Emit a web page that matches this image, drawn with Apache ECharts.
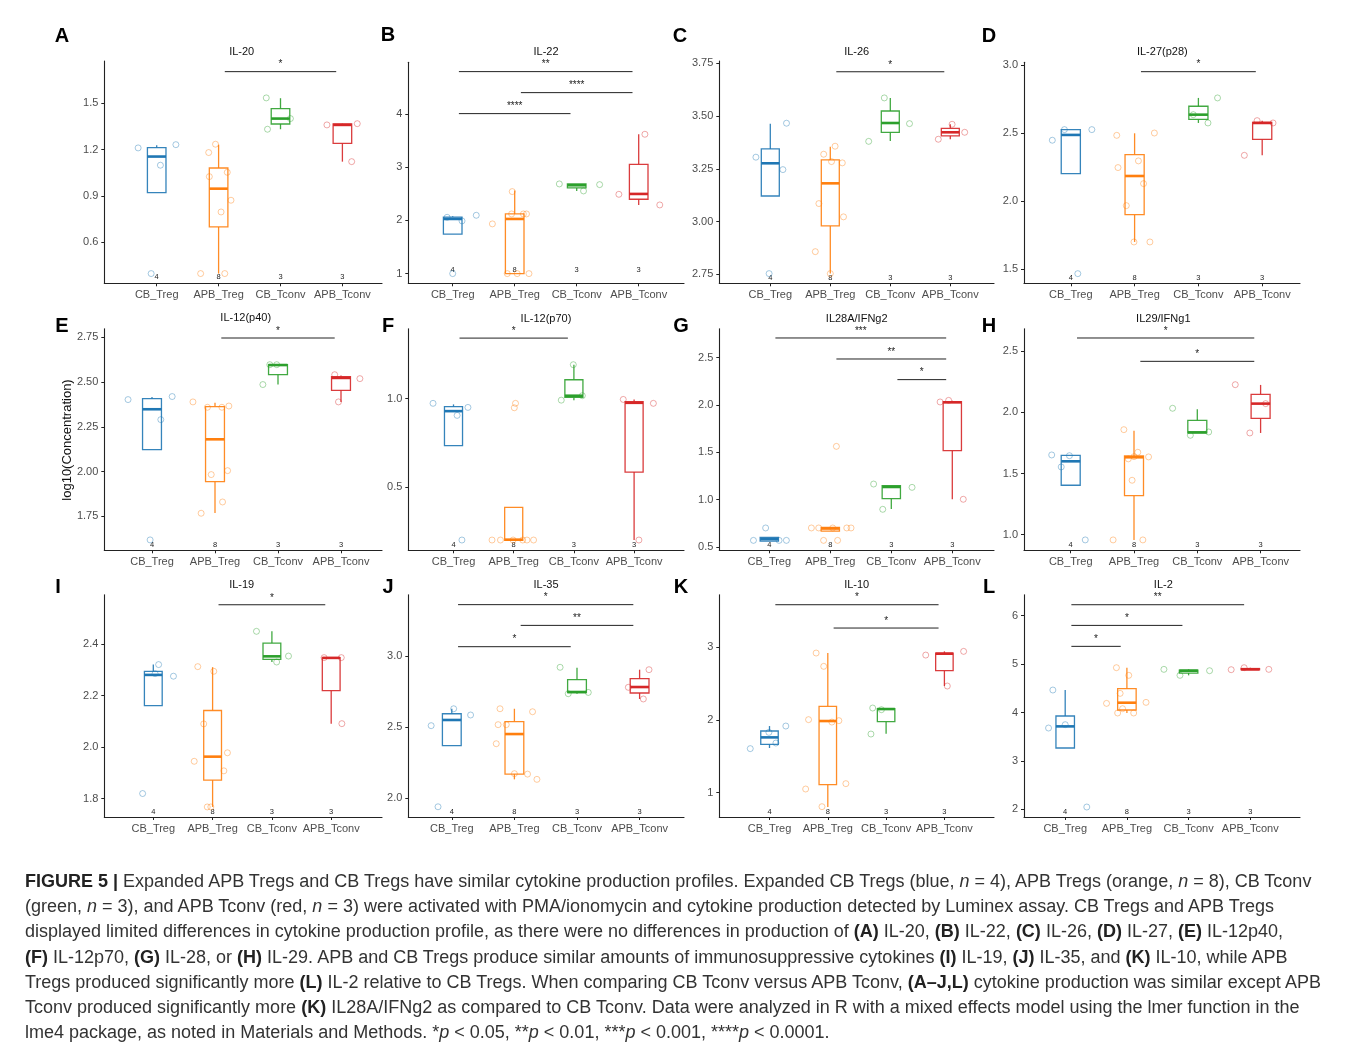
<!DOCTYPE html>
<html>
<head>
<meta charset="utf-8">
<script src="https://cdn.jsdelivr.net/npm/echarts@6/dist/echarts.min.js"></script>
<style>
  html, body { margin: 0; padding: 0; background: #fff; }
  #main { position: absolute; left: 0; top: 0; width: 1355px; height: 1051px; }
  #cap {
    position: absolute; left: 25px; top: 869px;
    font-family: "Liberation Sans", Arial, sans-serif; font-size: 18px;
    line-height: 25.2px; color: #333; white-space: nowrap;
  }
  #cap b { color: #222; }
</style>
</head>
<body>
<div id="main"></div>
<div id="cap">
<b>FIGURE 5 |</b> Expanded APB Tregs and CB Tregs have similar cytokine production profiles. Expanded CB Tregs (blue, <i>n</i> = 4), APB Tregs (orange, <i>n</i> = 8), CB Tconv<br>
(green, <i>n</i> = 3), and APB Tconv (red, <i>n</i> = 3) were activated with PMA/ionomycin and cytokine production detected by Luminex assay. CB Tregs and APB Tregs<br>
displayed limited differences in cytokine production profile, as there were no differences in production of <b>(A)</b> IL-20, <b>(B)</b> IL-22, <b>(C)</b> IL-26, <b>(D)</b> IL-27, <b>(E)</b> IL-12p40,<br>
<b>(F)</b> IL-12p70, <b>(G)</b> IL-28, or <b>(H)</b> IL-29. APB and CB Tregs produce similar amounts of immunosuppressive cytokines <b>(I)</b> IL-19, <b>(J)</b> IL-35, and <b>(K)</b> IL-10, while APB<br>
Tregs produced significantly more <b>(L)</b> IL-2 relative to CB Tregs. When comparing CB Tconv versus APB Tconv, <b>(A–J,L)</b> cytokine production was similar except APB<br>
Tconv produced significantly more <b>(K)</b> IL28A/IFNg2 as compared to CB Tconv. Data were analyzed in R with a mixed effects model using the lmer function in the<br>
lme4 package, as noted in Materials and Methods. *<i>p</i> &lt; 0.05, **<i>p</i> &lt; 0.01, ***<i>p</i> &lt; 0.001, ****<i>p</i> &lt; 0.0001.
</div>
<script>
// groups on every x axis
const groups = ['CB_Treg', 'APB_Treg', 'CB_Tconv', 'APB_Tconv'];
const counts = [4, 8, 3, 3];

// box stats per group: [lower whisker, q1, median, q3, upper whisker]
// points per group: [jitter, log10 value]
// sig bars: [from group, to group, y, stars]

// A  IL-20
const boxA = [[0.922, 0.922, 1.155, 1.213, 1.229], [0.397, 0.699, 0.947, 1.081, 1.232], [1.332, 1.366, 1.401, 1.465, 1.533], [1.122, 1.241, 1.360, 1.366, 1.368]];
const ptsA = [
  [[-0.30, 1.211], [0.31, 1.232], [0.06, 1.099], [-0.09, 0.397]],
  [[-0.05, 1.235], [-0.16, 1.181], [-0.15, 1.025], [0.14, 1.053], [0.20, 0.872], [0.04, 0.796], [-0.29, 0.397], [0.10, 0.397]],
  [[-0.23, 1.535], [0.16, 1.401], [-0.21, 1.332]],
  [[-0.25, 1.360], [0.24, 1.368], [0.15, 1.122]]
];
const ticksA = ['0.6', '0.9', '1.2', '1.5'];
const sigA = [[1, 3, 1.705, '*']];

// B  IL-22
const boxB = [[1.74, 1.74, 2.027, 2.06, 2.08], [1.0, 1.0, 2.027, 2.121, 2.56], [2.553, 2.61, 2.66, 2.685, 2.685], [2.29, 2.397, 2.497, 3.054, 3.618]];
const ptsB = [
  [[-0.09, 2.058], [0.15, 1.99], [0.38, 2.096], [0.0, 1.0]],
  [[-0.36, 1.934], [-0.04, 2.541], [-0.05, 2.121], [0.14, 2.121], [0.19, 2.121], [-0.12, 1.0], [0.04, 1.0], [0.23, 1.0]],
  [[-0.28, 2.685], [0.11, 2.553], [0.37, 2.672]],
  [[-0.32, 2.49], [0.10, 3.618], [0.34, 2.29]]
];
const ticksB = ['1', '2', '3', '4'];
const sigB = [[0, 3, 4.795, '**'], [1, 3, 4.40, '****'], [0, 2, 4.006, '****']];

// C  IL-26
const boxC = [[3.121, 3.121, 3.276, 3.344, 3.464], [2.753, 2.979, 3.181, 3.292, 3.355], [3.382, 3.423, 3.467, 3.524, 3.586], [3.39, 3.406, 3.423, 3.442, 3.461]];
const ptsC = [
  [[-0.24, 3.305], [0.27, 3.466], [0.21, 3.246], [-0.02, 2.753]],
  [[-0.11, 3.319], [0.08, 3.357], [0.02, 3.284], [0.20, 3.278], [-0.19, 3.085], [0.22, 3.022], [-0.25, 2.857], [0.0, 2.753]],
  [[-0.10, 3.586], [0.32, 3.464], [-0.36, 3.38]],
  [[-0.20, 3.39], [0.03, 3.461], [0.24, 3.423]]
];
const ticksC = ['2.75', '3.00', '3.25', '3.50', '3.75'];
const sigC = [[1, 3, 3.71, '*']];

// D  IL-27(p28)
const boxD = [[2.203, 2.203, 2.488, 2.527, 2.527], [1.701, 1.902, 2.186, 2.343, 2.5], [2.576, 2.603, 2.637, 2.699, 2.76], [2.338, 2.456, 2.576, 2.581, 2.593]];
const ptsD = [
  [[-0.29, 2.449], [-0.10, 2.527], [0.33, 2.527], [0.11, 1.468]],
  [[-0.28, 2.485], [0.31, 2.502], [0.06, 2.297], [-0.26, 2.248], [0.14, 2.130], [-0.13, 1.968], [-0.01, 1.701], [0.24, 1.701]],
  [[0.30, 2.760], [-0.08, 2.637], [0.15, 2.576]],
  [[-0.08, 2.593], [0.17, 2.576], [-0.28, 2.338]]
];
const ticksD = ['1.5', '2.0', '2.5', '3.0'];
const sigD = [[1, 3, 2.953, '*']];

// E  IL-12(p40)
const boxE = [[2.122, 2.122, 2.348, 2.407, 2.417], [1.769, 1.944, 2.18, 2.363, 2.385], [2.486, 2.541, 2.595, 2.597, 2.597], [2.389, 2.454, 2.523, 2.53, 2.536]];
const ptsE = [
  [[-0.38, 2.402], [0.32, 2.419], [0.14, 2.29], [-0.03, 1.618]],
  [[-0.35, 2.389], [-0.12, 2.359], [0.11, 2.359], [0.22, 2.366], [-0.06, 1.983], [0.20, 2.005], [0.12, 1.83], [-0.22, 1.767]],
  [[-0.13, 2.597], [-0.02, 2.597], [-0.24, 2.486]],
  [[-0.10, 2.541], [0.30, 2.519], [-0.04, 2.389]]
];
const ticksE = ['1.75', '2.00', '2.25', '2.50', '2.75'];
const sigE = [[1, 3, 2.746, '*']];

// F  IL-12(p70)
const boxF = [[0.735, 0.735, 0.93, 0.955, 0.968], [0.201, 0.201, 0.205, 0.387, 0.387], [0.992, 1.008, 1.017, 1.107, 1.192], [0.203, 0.586, 0.977, 0.983, 0.996]];
const ptsF = [
  [[-0.34, 0.974], [0.24, 0.951], [0.06, 0.906], [0.14, 0.203]],
  [[-0.36, 0.203], [-0.22, 0.203], [-0.01, 0.203], [0.15, 0.203], [0.22, 0.203], [0.33, 0.203], [0.03, 0.974], [0.01, 0.949]],
  [[-0.01, 1.192], [-0.21, 0.992], [0.14, 1.017]],
  [[-0.18, 0.996], [0.32, 0.974], [0.08, 0.203]]
];
const ticksF = ['0.5', '1.0'];
const sigF = [[0, 2, 1.342, '*']];

// G  IL28A/IFNg2
const boxG = [[0.562, 0.562, 0.583, 0.602, 0.602], [0.668, 0.668, 0.695, 0.708, 0.708], [0.901, 1.011, 1.134, 1.148, 1.148], [1.004, 1.518, 2.028, 2.035, 2.045]];
const ptsG = [
  [[-0.06, 0.701], [-0.26, 0.57], [0.16, 0.57], [0.28, 0.57]],
  [[-0.31, 0.701], [-0.19, 0.701], [0.04, 0.701], [0.27, 0.701], [0.34, 0.701], [0.10, 1.563], [-0.11, 0.57], [0.12, 0.57]],
  [[-0.29, 1.165], [0.34, 1.13], [-0.14, 0.898]],
  [[-0.20, 2.032], [-0.06, 2.049], [0.18, 1.004]]
];
const ticksG = ['0.5', '1.0', '1.5', '2.0', '2.5'];
const sigG = [[0, 3, 2.708, '***'], [1, 3, 2.486, '**'], [2, 3, 2.268, '*']];

// H  IL29/IFNg1
const boxH = [[1.404, 1.404, 1.60, 1.649, 1.652], [0.957, 1.319, 1.633, 1.644, 1.851], [1.832, 1.832, 1.837, 1.935, 2.025], [1.832, 1.952, 2.072, 2.148, 2.225]];
const ptsH = [
  [[-0.30, 1.652], [-0.02, 1.646], [-0.15, 1.554], [0.23, 0.957]],
  [[-0.16, 1.859], [-0.09, 1.62], [0.06, 1.674], [0.23, 1.636], [-0.03, 1.445], [-0.33, 0.957], [0.14, 0.957], [0.0, 1.638]],
  [[-0.39, 2.034], [-0.11, 1.813], [0.18, 1.84]],
  [[-0.40, 2.227], [0.08, 2.072], [-0.17, 1.832]]
];
const ticksH = ['1.0', '1.5', '2.0', '2.5'];
const sigH = [[0, 3, 2.609, '*'], [1, 3, 2.418, '*']];

// I  IL-19
const boxI = [[2.161, 2.161, 2.28, 2.294, 2.32], [1.768, 1.872, 1.963, 2.142, 2.31], [2.33, 2.34, 2.352, 2.403, 2.449], [2.091, 2.219, 2.346, 2.347, 2.347]];
const ptsI = [
  [[0.09, 2.32], [0.34, 2.275], [-0.18, 1.82], [0.03, 2.285]],
  [[-0.25, 2.312], [0.02, 2.294], [-0.15, 2.09], [0.25, 1.978], [-0.31, 1.945], [0.19, 1.908], [-0.09, 1.768], [-0.03, 1.768]],
  [[-0.26, 2.449], [0.28, 2.353], [0.08, 2.33]],
  [[-0.12, 2.347], [0.17, 2.347], [0.18, 2.091]]
];
const ticksI = ['1.8', '2.0', '2.2', '2.4'];
const sigI = [[1, 3, 2.552, '*']];

// J  IL-35
const boxJ = [[2.371, 2.371, 2.552, 2.596, 2.631], [2.134, 2.171, 2.453, 2.54, 2.631], [2.737, 2.744, 2.749, 2.836, 2.92], [2.70, 2.742, 2.784, 2.843, 2.906]];
const ptsJ = [
  [[0.03, 2.631], [0.30, 2.587], [-0.33, 2.512], [-0.22, 1.941]],
  [[-0.23, 2.631], [0.29, 2.61], [-0.26, 2.519], [-0.13, 2.519], [-0.29, 2.385], [0.0, 2.174], [0.21, 2.171], [0.36, 2.134]],
  [[-0.27, 2.923], [-0.14, 2.737], [0.18, 2.746]],
  [[0.15, 2.906], [-0.18, 2.782], [0.06, 2.70]]
];
const ticksJ = ['2.0', '2.5', '3.0'];
const sigJ = [[0, 3, 3.364, '*'], [1, 3, 3.218, '**'], [0, 2, 3.068, '*']];

// K  IL-10
const boxK = [[1.615, 1.665, 1.761, 1.849, 1.917], [0.803, 1.11, 1.986, 2.188, 2.922], [1.812, 1.977, 2.151, 2.156, 2.165], [2.468, 2.679, 2.913, 2.922, 2.945]];
const ptsK = [
  [[-0.01, 1.83], [0.28, 1.917], [0.11, 1.683], [-0.33, 1.606]],
  [[-0.20, 2.922], [-0.07, 2.739], [-0.33, 2.005], [0.07, 1.972], [0.19, 1.991], [0.31, 1.124], [-0.38, 1.05], [-0.10, 0.807]],
  [[-0.23, 2.165], [-0.08, 2.142], [-0.26, 1.807]],
  [[-0.32, 2.894], [0.33, 2.945], [0.05, 2.468]]
];
const ticksK = ['1', '2', '3'];
const sigK = [[0, 3, 3.587, '*'], [1, 3, 3.266, '*']];

// L  IL-2
const boxL = [[3.267, 3.267, 3.714, 3.928, 4.465], [3.99, 4.052, 4.203, 4.492, 4.926], [4.768, 4.816, 4.864, 4.878, 4.892], [4.885, 4.885, 4.892, 4.909, 4.926]];
const ptsL = [
  [[-0.20, 4.465], [0.0, 3.749], [-0.27, 3.68], [0.35, 2.048]],
  [[-0.17, 4.926], [0.03, 4.768], [-0.11, 4.396], [-0.33, 4.189], [0.31, 4.21], [-0.07, 4.079], [-0.15, 3.99], [0.11, 3.99]],
  [[-0.40, 4.892], [-0.14, 4.768], [0.34, 4.864]],
  [[-0.31, 4.885], [-0.10, 4.926], [0.30, 4.892]]
];
const ticksL = ['2', '3', '4', '5', '6'];
const sigL = [[0, 3, 6.227, '**'], [0, 2, 5.80, '*'], [0, 1, 5.367, '*']];

const panels = [
  { tag: 'A', title: 'IL-20', box: boxA, pts: ptsA, ticks: ticksA, sig: sigA },
  { tag: 'B', title: 'IL-22', box: boxB, pts: ptsB, ticks: ticksB, sig: sigB },
  { tag: 'C', title: 'IL-26', box: boxC, pts: ptsC, ticks: ticksC, sig: sigC },
  { tag: 'D', title: 'IL-27(p28)', box: boxD, pts: ptsD, ticks: ticksD, sig: sigD },
  { tag: 'E', title: 'IL-12(p40)', box: boxE, pts: ptsE, ticks: ticksE, sig: sigE },
  { tag: 'F', title: 'IL-12(p70)', box: boxF, pts: ptsF, ticks: ticksF, sig: sigF },
  { tag: 'G', title: 'IL28A/IFNg2', box: boxG, pts: ptsG, ticks: ticksG, sig: sigG },
  { tag: 'H', title: 'IL29/IFNg1', box: boxH, pts: ptsH, ticks: ticksH, sig: sigH },
  { tag: 'I', title: 'IL-19', box: boxI, pts: ptsI, ticks: ticksI, sig: sigI },
  { tag: 'J', title: 'IL-35', box: boxJ, pts: ptsJ, ticks: ticksJ, sig: sigJ },
  { tag: 'K', title: 'IL-10', box: boxK, pts: ptsK, ticks: ticksK, sig: sigK },
  { tag: 'L', title: 'IL-2', box: boxL, pts: ptsL, ticks: ticksL, sig: sigL }
];

// where each panel sits (px): plot box, first group centre, group spacing, y range
const layout = [
  { l: 104.3, r: 382, t: 61, b: 283.3, c0: 156.7, s: 61.9, yMin: 0.334, yMax: 1.774, nOff: 6, tx: 241.7, ty: 51.7, lx: 62, ly: 36 },
  { l: 408.3, r: 684, t: 62.3, b: 283.3, c0: 452.7, s: 62, yMin: 0.818, yMax: 4.97, nOff: 13, tx: 546, ty: 51.7, lx: 388, ly: 35 },
  { l: 719.3, r: 994, t: 61, b: 283.3, c0: 770.3, s: 60, yMin: 2.707, yMax: 3.761, nOff: 5, tx: 856.7, ty: 51.7, lx: 680, ly: 36 },
  { l: 1024, r: 1300, t: 62.3, b: 283.3, c0: 1070.8, s: 63.8, yMin: 1.397, yMax: 3.022, nOff: 5, tx: 1162.3, ty: 51.7, lx: 989, ly: 36 },
  { l: 104.3, r: 382, t: 328.7, b: 550.3, c0: 152, s: 63, yMin: 1.56, yMax: 2.798, nOff: 5, tx: 245.7, ty: 318, lx: 62, ly: 326 },
  { l: 408.3, r: 684, t: 328.7, b: 550.3, c0: 453.5, s: 60.2, yMin: 0.145, yMax: 1.395, nOff: 5, tx: 546, ty: 318.7, lx: 388, ly: 326 },
  { l: 719.3, r: 994, t: 328.7, b: 550.3, c0: 769.3, s: 61, yMin: 0.465, yMax: 2.806, nOff: 5, tx: 856.7, ty: 318.7, lx: 681, ly: 326 },
  { l: 1024, r: 1300, t: 328.7, b: 550.3, c0: 1070.7, s: 63.3, yMin: 0.872, yMax: 2.685, nOff: 5, tx: 1163.3, ty: 318.7, lx: 989, ly: 326 },
  { l: 104.3, r: 382, t: 594.7, b: 817, c0: 153.3, s: 59.3, yMin: 1.729, yMax: 2.591, nOff: 5, tx: 241.7, ty: 584.7, lx: 58, ly: 587 },
  { l: 408.3, r: 684, t: 594.7, b: 817, c0: 451.8, s: 62.6, yMin: 1.869, yMax: 3.434, nOff: 5, tx: 546, ty: 584.7, lx: 388, ly: 587 },
  { l: 719.3, r: 994, t: 594.7, b: 817, c0: 769.5, s: 58.3, yMin: 0.665, yMax: 3.725, nOff: 5, tx: 856.7, ty: 584.7, lx: 681, ly: 587 },
  { l: 1024, r: 1300, t: 594.7, b: 817, c0: 1065.2, s: 61.7, yMin: 1.842, yMax: 6.434, nOff: 5, tx: 1163.3, ty: 584.7, lx: 989, ly: 587 }
];

const lineColors = ['#1f77b4', '#ff7f0e', '#2ca02c', '#d62728'];
const pointColors = ['rgba(31,119,180,0.5)', 'rgba(255,127,14,0.5)', 'rgba(44,160,44,0.5)', 'rgba(214,39,40,0.5)'];
const FONT = '"Liberation Sans", Arial, sans-serif';
const AXIS = '#222';
const BOX_W = 0.3;

const grids = [], xAxes = [], yAxes = [], series = [], graphics = [];

panels.forEach((p, k) => {
  const L = layout[k];
  grids.push({ left: L.l, top: L.t, width: L.r - L.l, height: L.b - L.t, outerBoundsMode: 'none' });

  xAxes.push({
    type: 'value', gridIndex: k,
    min: (L.l - L.c0) / L.s, max: (L.r - L.c0) / L.s,
    splitLine: { show: false },
    axisLine: { show: true, onZero: false, lineStyle: { color: AXIS, width: 1.1 } },
    axisTick: { show: true, length: 3, customValues: [0, 1, 2, 3], lineStyle: { color: AXIS } },
    axisLabel: {
      customValues: [0, 1, 2, 3], margin: 6, color: '#4d4d4d', fontSize: 11, fontFamily: FONT,
      formatter: v => groups[Math.round(v)]
    }
  });

  const tickVals = p.ticks.map(Number);
  yAxes.push({
    type: 'value', gridIndex: k, min: L.yMin, max: L.yMax,
    splitLine: { show: false },
    axisLine: { show: true, onZero: false, lineStyle: { color: AXIS, width: 1.1 } },
    axisTick: { show: true, length: 3, customValues: tickVals, lineStyle: { color: AXIS } },
    axisLabel: {
      customValues: tickVals, margin: 6, color: '#4d4d4d', fontSize: 11, fontFamily: FONT,
      formatter: v => {
        const i = tickVals.findIndex(t => Math.abs(t - v) < 1e-9);
        return i >= 0 ? p.ticks[i] : '';
      }
    }
  });

  // boxes
  series.push({
    type: 'custom', xAxisIndex: k, yAxisIndex: k, z: 2, silent: true,
    data: p.box.map((b, i) => [i].concat(b)),
    encode: { x: 0, y: [1, 2, 3, 4, 5] },
    renderItem: (params, api) => {
      const i = api.value(0);
      const c = lineColors[i];
      const hw = api.size([BOX_W, 0])[0] / 2;
      const pLo = api.coord([i, api.value(1)]);
      const pQ1 = api.coord([i, api.value(2)]);
      const pMd = api.coord([i, api.value(3)]);
      const pQ3 = api.coord([i, api.value(4)]);
      const pHi = api.coord([i, api.value(5)]);
      const st = { stroke: c, lineWidth: 1.3, opacity: 0.9 };
      return {
        type: 'group',
        children: [
          { type: 'line', shape: { x1: pHi[0], y1: pHi[1], x2: pQ3[0], y2: pQ3[1] }, style: st },
          { type: 'line', shape: { x1: pQ1[0], y1: pQ1[1], x2: pLo[0], y2: pLo[1] }, style: st },
          { type: 'rect', shape: { x: pQ3[0] - hw, y: pQ3[1], width: hw * 2, height: pQ1[1] - pQ3[1] },
            style: { fill: '#fff', stroke: c, lineWidth: 1.3, opacity: 0.9 } },
          { type: 'line', shape: { x1: pMd[0] - hw, y1: pMd[1], x2: pMd[0] + hw, y2: pMd[1] },
            style: { stroke: c, lineWidth: 2.6 } }
        ]
      };
    }
  });

  // jittered points
  const pts = [];
  p.pts.forEach((g, i) => g.forEach(d => pts.push({ value: [i + d[0], d[1]], itemStyle: { borderColor: pointColors[i] } })));
  series.push({
    type: 'scatter', xAxisIndex: k, yAxisIndex: k, z: 3, silent: true,
    symbol: 'circle', symbolSize: 6,
    itemStyle: { color: 'rgba(0,0,0,0)', borderWidth: 1 },
    data: pts
  });

  // significance bars
  series.push({
    type: 'custom', xAxisIndex: k, yAxisIndex: k, z: 3, silent: true,
    data: p.sig.map(s => [s[0], s[1], s[2]]),
    encode: { x: [0, 1], y: 2 },
    renderItem: (params, api) => {
      const a = api.coord([api.value(0) + 0.1, api.value(2)]);
      const b = api.coord([api.value(1) - 0.1, api.value(2)]);
      return {
        type: 'group',
        children: [
          { type: 'line', shape: { x1: a[0], y1: a[1], x2: b[0], y2: b[1] }, style: { stroke: '#222', lineWidth: 1 } },
          { type: 'text', x: (a[0] + b[0]) / 2, y: a[1] - 2,
            style: { text: p.sig[params.dataIndex][3], fill: '#222', fontSize: 10, fontFamily: FONT,
                     align: 'center', verticalAlign: 'bottom' } }
        ]
      };
    }
  });

  // group sizes
  series.push({
    type: 'custom', xAxisIndex: k, yAxisIndex: k, z: 3, silent: true,
    data: counts.map((n, i) => [i, n]),
    encode: { x: 0 },
    renderItem: (params, api) => {
      const pt = api.coord([api.value(0), L.yMin]);
      return { type: 'text', x: pt[0], y: pt[1] - L.nOff,
        style: { text: String(api.value(1)), fill: '#222', fontSize: 7.5, fontFamily: FONT,
                 align: 'center', verticalAlign: 'middle' } };
    }
  });

  graphics.push({ type: 'text', x: L.tx, y: L.ty,
    style: { text: p.title, fill: '#111', fontSize: 11, fontFamily: FONT, align: 'center', verticalAlign: 'middle' } });
  graphics.push({ type: 'text', x: L.lx, y: L.ly,
    style: { text: p.tag, fill: '#000', fontSize: 20, fontWeight: 'bold', fontFamily: FONT, align: 'center', verticalAlign: 'middle' } });
});

graphics.push({ type: 'text', x: 67, y: 440, rotation: Math.PI / 2,
  style: { text: 'log10(Concentration)', fill: '#111', fontSize: 13, fontFamily: FONT, align: 'center', verticalAlign: 'middle' } });

const chart = echarts.init(document.getElementById('main'), null, { renderer: 'canvas' });
chart.setOption({
  animation: false,
  backgroundColor: '#fff',
  grid: grids,
  xAxis: xAxes,
  yAxis: yAxes,
  series: series,
  graphic: graphics
});
</script>
</body>
</html>
